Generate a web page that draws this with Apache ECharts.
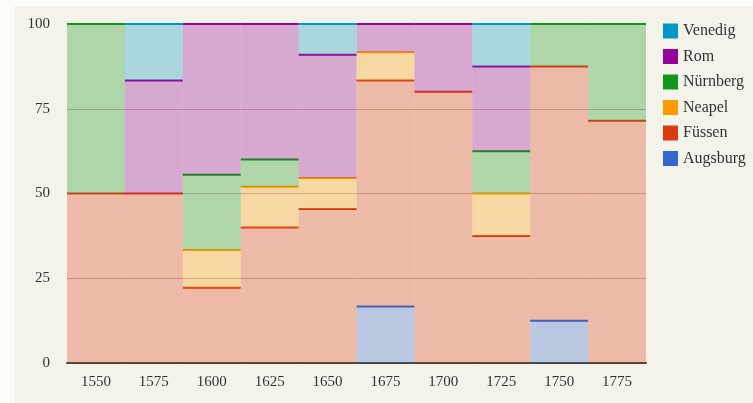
<!DOCTYPE html>
<html>
<head>
<meta charset="utf-8">
<script src="https://cdn.jsdelivr.net/npm/echarts@6/dist/echarts.min.js"></script>
<style>
html,body{margin:0;padding:0;background:#fbfbf8;}
#panel{position:absolute;left:14px;top:6px;width:739px;height:397px;background:#f4f3e9;}
#chart{position:absolute;left:0;top:0;width:753px;height:403px;}
</style>
</head>
<body>
<div id="panel"></div>
<div id="chart"></div>
<script>
const categories = ['1550','1575','1600','1625','1650','1675','1700','1725','1750','1775'];
// stacking order bottom -> top
const augsburg = [0, 0, 0, 0, 0, 16.67, 0, 0, 12.5, 0];
const fuessen  = [50, 50, 22.22, 40, 45.45, 66.67, 80, 37.5, 75, 71.43];
const neapel   = [0, 0, 11.11, 12, 9.09, 8.33, 0, 12.5, 0, 0];
const nuernberg= [50, 0, 22.22, 8, 0, 0, 0, 12.5, 12.5, 28.57];
const rom      = [0, 33.33, 44.45, 40, 36.37, 8.33, 20, 25, 0, 0];
const venedig  = [0, 16.67, 0, 0, 9.09, 0, 0, 12.5, 0, 0];
const yTicks = [0, 25, 50, 75, 100];

const seriesDefs = [
  {name:'Augsburg', data:augsburg, color:'#3366CC'},
  {name:'Füssen', data:fuessen, color:'#DC3912'},
  {name:'Neapel', data:neapel, color:'#FF9900'},
  {name:'Nürnberg', data:nuernberg, color:'#109618'},
  {name:'Rom', data:rom, color:'#990099'},
  {name:'Venedig', data:venedig, color:'#0099C6'}
];

const base = categories.map(() => 0);
const series = seriesDefs.map(def => {
  const data = def.data.map((v, i) => {
    const b = base[i];
    base[i] += v;
    return [i, b, b + v];
  });
  return {
    name: def.name,
    type: 'custom',
    itemStyle: {color: def.color},
    encode: {x: 0, y: [1, 2]},
    data: data,
    renderItem: function (params, api) {
      const x = api.value(0), lo = api.value(1), hi = api.value(2);
      const p0 = api.coord([x, lo]);
      const p1 = api.coord([x, hi]);
      const w = api.size([1, 0])[0];
      const children = [{
        type: 'rect',
        shape: {x: p0[0] - w / 2, y: p1[1], width: w, height: p0[1] - p1[1]},
        style: {fill: def.color, opacity: 0.3}
      }];
      if (hi - lo > 0.01) {
        children.push({
          type: 'line',
          shape: {x1: p0[0] - w / 2, y1: p1[1], x2: p0[0] + w / 2, y2: p1[1]},
          style: {stroke: def.color, lineWidth: 2}
        });
      }
      return {type: 'group', children: children};
    }
  };
});

const chart = echarts.init(document.getElementById('chart'));
chart.setOption({
  backgroundColor: 'transparent',
  animation: false,
  textStyle: {fontFamily: 'Liberation Serif'},
  grid: {left: 67, right: 107, top: 24, bottom: 40},
  legend: {
    orient: 'vertical',
    left: 658, top: 18,
    icon: 'rect',
    itemWidth: 15, itemHeight: 15, itemGap: 9.5,
    data: ['Venedig','Rom','Nürnberg','Neapel','Füssen','Augsburg'],
    textStyle: {fontFamily: 'Liberation Serif', fontSize: 16, color: '#333'}
  },
  xAxis: {
    type: 'category',
    data: categories,
    axisTick: {show: false},
    axisLine: {show: true, lineStyle: {color: '#444', width: 2}},
    axisLabel: {fontFamily: 'Liberation Serif', fontSize: 15, color: '#333', margin: 12}
  },
  yAxis: {
    type: 'value',
    min: yTicks[0], max: yTicks[yTicks.length - 1], interval: 25,
    axisLine: {show: false},
    axisTick: {show: false},
    axisLabel: {fontFamily: 'Liberation Serif', fontSize: 15, color: '#333', margin: 17},
    splitLine: {lineStyle: {color: 'rgba(140,110,100,0.45)', width: 1}}
  },
  series: series
});
</script>
</body>
</html>
